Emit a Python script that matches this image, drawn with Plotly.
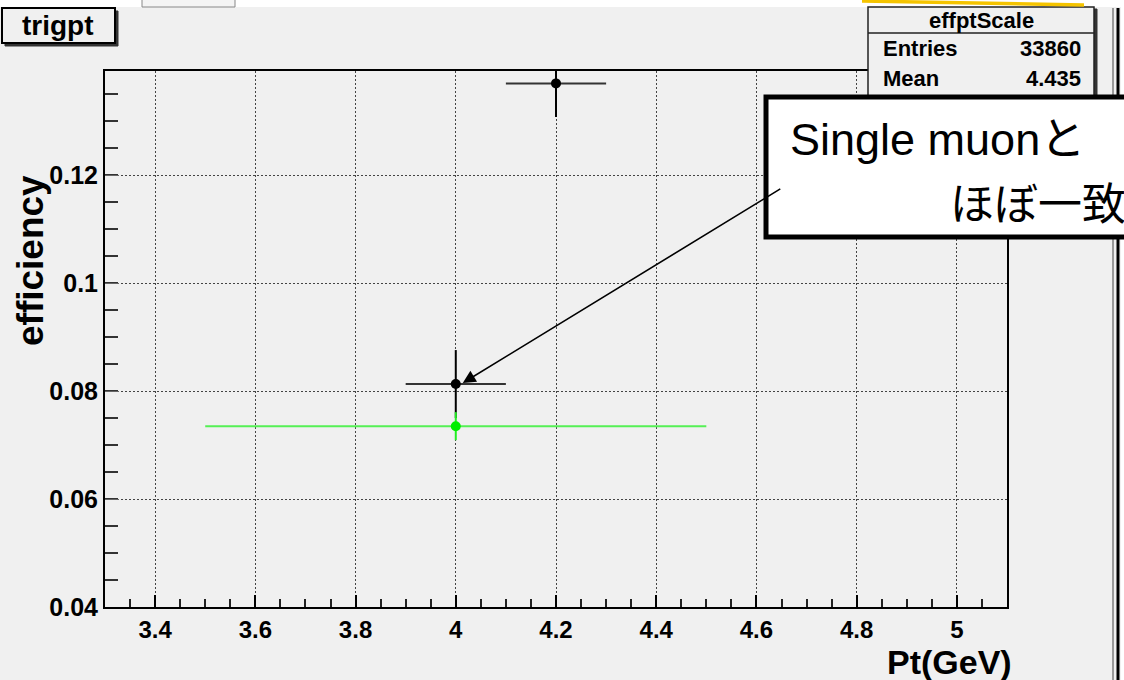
import plotly.graph_objects as go

# ---- data ----
black_x = [4.0, 4.2]
black_y = [0.0813, 0.1370]
black_ex = [0.1, 0.1]
black_ey = [0.0063, 0.0062]

green_x = [4.0]
green_y = [0.0735]
green_ex = [0.5]
green_ey = [0.0026]

x_tick_vals = [3.4, 3.6, 3.8, 4.0, 4.2, 4.4, 4.6, 4.8, 5.0]
x_tick_labels = ["3.4", "3.6", "3.8", "4", "4.2", "4.4", "4.6", "4.8", "5"]
y_tick_vals = [0.04, 0.06, 0.08, 0.10, 0.12]
y_tick_labels = ["0.04", "0.06", "0.08", "0.1", "0.12"]

stat_title = "effptScale"
stat_names = ["Entries", "Mean"]
stat_values = ["33860", "4.435"]

# ---- layout geometry (pixels) ----
W, H = 1124, 680
L, R, T, B = 105, 1007, 71, 607
BG = "#f0f0f0"
FONT = "Liberation Sans, Arial, Noto Sans CJK JP, sans-serif"


def px(x):
    return (x - L) / (R - L)


def py(y):
    return (B - y) / (B - T)


def rect(x0, y0, x1, y1, fill, line_color, line_width):
    return dict(type="rect", xref="paper", yref="paper",
                x0=px(x0), x1=px(x1), y0=py(y1), y1=py(y0),
                fillcolor=fill, line=dict(color=line_color, width=line_width),
                layer="above")


def seg(x0, y0, x1, y1, color, width):
    return dict(type="line", xref="paper", yref="paper",
                x0=px(x0), x1=px(x1), y0=py(y0), y1=py(y1),
                line=dict(color=color, width=width), layer="above")


fig = go.Figure()

fig.add_trace(go.Scatter(
    x=black_x, y=black_y, mode="markers",
    marker=dict(color="black", size=10, symbol="circle"),
    error_x=dict(type="data", array=black_ex, width=0, thickness=2, color="#333333"),
    error_y=dict(type="data", array=black_ey, width=0, thickness=2, color="black"),
    showlegend=False,
))
fig.add_trace(go.Scatter(
    x=green_x, y=green_y, mode="markers",
    marker=dict(color="#00ee00", size=10, symbol="circle"),
    error_x=dict(type="data", array=green_ex, width=0, thickness=2, color="#55f055"),
    error_y=dict(type="data", array=green_ey, width=0, thickness=2, color="#22ee22"),
    showlegend=False,
))

shapes = []
# top white strip and window pieces
shapes.append(rect(-10, -10, W + 10, 7, "white", "white", 0))
shapes.append(rect(142, -5, 235, 7, "#f4f4f4", "#888888", 1))
# right window border
shapes.append(rect(1121, 0, W + 10, H + 10, "white", "white", 0))
shapes.append(seg(1113, 8, 1113, H + 5, "#999999", 2))
shapes.append(seg(1118, 8, 1118, H + 5, "black", 3))
# title box with shadow
shapes.append(rect(5, 11, 118, 46, "#333333", "#333333", 1))
shapes.append(rect(2, 8, 115, 43, BG, "black", 2))
# stats box with shadow
shapes.append(rect(871, 9, 1097, 130, "#333333", "#333333", 1))
shapes.append(rect(868, 7, 1094, 127, BG, "#222222", 1.5))
shapes.append(seg(868, 33, 1094, 33, "#222222", 1.5))
# yellow decoration at the top edge
shapes.append(seg(862, 1, 1084, 5, "#f5c400", 3.5))
# annotation box
shapes.append(rect(766, 97, 1140, 237, "white", "black", 5))

annotations = []
annotations.append(dict(xref="paper", yref="paper", x=px(58), y=py(25),
                        text="trigpt", showarrow=False,
                        font=dict(family=FONT, size=28, color="black", weight="bold"),
                        xanchor="center", yanchor="middle"))
annotations.append(dict(xref="paper", yref="paper", x=px(981), y=py(20),
                        text=stat_title, showarrow=False,
                        font=dict(family=FONT, size=22, color="black", weight="bold"),
                        xanchor="center", yanchor="middle"))
for i, (nm, val) in enumerate(zip(stat_names, stat_values)):
    yc = 49 + i * 29
    annotations.append(dict(xref="paper", yref="paper", x=px(881), y=py(yc),
                            text=nm, showarrow=False,
                            font=dict(family=FONT, size=22, color="black", weight="bold"),
                            xanchor="left", yanchor="middle"))
    annotations.append(dict(xref="paper", yref="paper", x=px(1083), y=py(yc),
                            text=val, showarrow=False,
                            font=dict(family=FONT, size=22, color="black", weight="bold"),
                            xanchor="right", yanchor="middle"))
# callout text
annotations.append(dict(xref="paper", yref="paper", x=px(788), y=py(140),
                        text="Single muonと", showarrow=False,
                        font=dict(family=FONT, size=45, color="black"),
                        xanchor="left", yanchor="middle"))
annotations.append(dict(xref="paper", yref="paper", x=px(948), y=py(201),
                        text="ほぼ一致", showarrow=False,
                        font=dict(family="Noto Sans CJK JP, sans-serif", size=44, color="black"),
                        xanchor="left", yanchor="middle"))
# arrow to the point
annotations.append(dict(xref="x", yref="y", x=4.014, y=0.0815,
                        ax=319, ay=-195, axref="pixel", ayref="pixel",
                        text="", showarrow=True, arrowhead=2, arrowsize=1.6,
                        arrowwidth=1.6, arrowcolor="black", standoff=0, startstandoff=0))
# axis titles
annotations.append(dict(xref="paper", yref="paper", x=px(30), y=py(261),
                        text="efficiency", textangle=-90, showarrow=False,
                        font=dict(family=FONT, size=37, color="black", weight="bold"),
                        xanchor="center", yanchor="middle"))
annotations.append(dict(xref="paper", yref="paper", x=px(1014), y=py(662),
                        text="Pt(GeV)", showarrow=False,
                        font=dict(family=FONT, size=34, color="black", weight="bold"),
                        xanchor="right", yanchor="middle"))

fig.update_layout(
    width=W, height=H,
    margin=dict(l=L, r=W - R, t=T, b=H - B, pad=0),
    paper_bgcolor=BG, plot_bgcolor=BG,
    shapes=shapes, annotations=annotations,
    showlegend=False,
    xaxis=dict(
        range=[3.3, 5.1], tickmode="array", tickvals=x_tick_vals, ticktext=x_tick_labels,
        ticks="inside", ticklen=12, tickwidth=2, tickcolor="black",
        minor=dict(tickmode="linear", tick0=3.3, dtick=0.05, ticks="inside",
                   ticklen=8, tickwidth=2, tickcolor="#222222", showgrid=False),
        showgrid=True, gridcolor="#444444", griddash="2px,2px", gridwidth=1,
        showline=True, linecolor="black", linewidth=2, mirror=True,
        zeroline=False, ticklabelstandoff=0,
        tickfont=dict(family=FONT, size=24, color="black", weight="bold"),
    ),
    yaxis=dict(
        range=[0.04, 0.1393], tickmode="array", tickvals=y_tick_vals, ticktext=y_tick_labels,
        ticks="inside", ticklen=14, tickwidth=1, tickcolor="#666666",
        minor=dict(tickmode="linear", tick0=0.04, dtick=0.005, ticks="inside",
                   ticklen=13, tickwidth=2, tickcolor="#333333", showgrid=False),
        showgrid=True, gridcolor="#444444", griddash="2px,2px", gridwidth=1,
        showline=True, linecolor="black", linewidth=2, mirror=True,
        zeroline=False, ticklabelstandoff=0,
        tickfont=dict(family=FONT, size=25, color="black", weight="bold"),
    ),
)

fig.write_html("out.html", config={"displayModeBar": False},
               post_script="document.body.style.margin='0px';document.body.style.overflow='hidden';")
